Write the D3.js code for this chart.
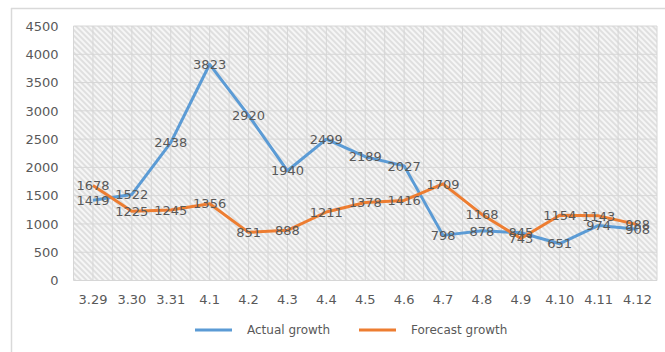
<!DOCTYPE html>
<html>
<head>
<meta charset="utf-8">
<script src="https://cdn.jsdelivr.net/npm/d3@7"></script>
<style>
  html, body { margin: 0; padding: 0; background: #fff; }
  svg { display: block; }
  text { font-family: "DejaVu Sans", sans-serif; fill: #595959; }
</style>
</head>
<body>
<svg id="chart" width="665" height="352"></svg>
<script>
// Daily dates on the x axis
const categories = ["3.29", "3.30", "3.31", "4.1", "4.2", "4.3", "4.4", "4.5", "4.6", "4.7", "4.8", "4.9", "4.10", "4.11", "4.12"];
// Series values
const actualGrowth = [1419, 1522, 2438, 3823, 2920, 1940, 2499, 2189, 2027, 798, 878, 845, 651, 974, 908];
const forecastGrowth = [1678, 1225, 1245, 1356, 851, 888, 1211, 1378, 1416, 1709, 1168, 743, 1154, 1143, 988];
// Value axis ticks
const yTicks = [0, 500, 1000, 1500, 2000, 2500, 3000, 3500, 4000, 4500];

const series = [
  { name: "Actual growth", values: actualGrowth, color: "#5B9BD5" },
  { name: "Forecast growth", values: forecastGrowth, color: "#ED7D31" }
];

const svg = d3.select("#chart");
const plot = { left: 73.5, right: 657, top: 26, bottom: 280.5 };

const x = d3.scaleBand().domain(categories).range([plot.left, plot.right]);
const y = d3.scaleLinear().domain([0, 4500]).range([plot.bottom, plot.top]);

// Chart frame
svg.append("line").attr("x1", 11).attr("x2", 665).attr("y1", 8.5).attr("y2", 8.5)
  .attr("stroke", "#d9d9d9").attr("stroke-width", 1.5);
svg.append("line").attr("x1", 11.5).attr("x2", 11.5).attr("y1", 8).attr("y2", 352)
  .attr("stroke", "#d9d9d9").attr("stroke-width", 1.5);

// Hatched plot-area fill (downward diagonal stripes)
const defs = svg.append("defs");
const pat = defs.append("pattern").attr("id", "hatch")
  .attr("patternUnits", "userSpaceOnUse").attr("width", 4).attr("height", 4)
  .attr("patternTransform", "rotate(45)");
pat.append("rect").attr("width", 4).attr("height", 4).attr("fill", "#f6f6f6");
pat.append("line").attr("x1", 0).attr("x2", 4).attr("y1", 1).attr("y2", 1)
  .attr("stroke", "#d8d8d8").attr("stroke-width", 1.5);

svg.append("rect")
  .attr("x", plot.left).attr("y", plot.top)
  .attr("width", plot.right - plot.left).attr("height", plot.bottom - plot.top)
  .attr("fill", "url(#hatch)");

// Grid lines: one per value tick, and two per category (centre and edge)
const grid = svg.append("g").attr("stroke", "#d6d6d6").attr("stroke-width", 1);
grid.selectAll(".hg").data(yTicks).join("line")
  .attr("x1", plot.left).attr("x2", plot.right)
  .attr("y1", d => y(d)).attr("y2", d => y(d));
const vPos = [];
categories.forEach(c => { vPos.push(x(c)); vPos.push(x(c) + x.bandwidth() / 2); });
vPos.push(plot.right);
grid.selectAll(".vg").data(vPos).join("line")
  .attr("x1", d => d).attr("x2", d => d)
  .attr("y1", plot.top).attr("y2", plot.bottom);

// Value axis
const yAxis = svg.append("g").attr("transform", `translate(${plot.left},0)`)
  .call(d3.axisLeft(y).tickValues(yTicks).tickFormat(d3.format("d")).tickSize(0).tickPadding(15));
yAxis.select(".domain").remove();
yAxis.selectAll("text").style("font-size", "13px").attr("fill", "#595959")
  .style("font-family", "'DejaVu Sans', sans-serif");

// Category axis
const xAxis = svg.append("g").attr("transform", `translate(0,${plot.bottom})`)
  .call(d3.axisBottom(x).tickSize(0).tickPadding(14));
xAxis.select(".domain").remove();
xAxis.selectAll("text").style("font-size", "13px").attr("fill", "#595959")
  .style("font-family", "'DejaVu Sans', sans-serif");

// Lines
const cx = c => x(c) + x.bandwidth() / 2;
const line = d3.line().x((d, i) => cx(categories[i])).y(d => y(d));
series.forEach(s => {
  svg.append("path").datum(s.values)
    .attr("d", line).attr("fill", "none")
    .attr("stroke", s.color).attr("stroke-width", 3)
    .attr("stroke-linejoin", "round");
});

// Value labels centred on each point
series.forEach(s => {
  svg.append("g").selectAll("text").data(s.values).join("text")
    .attr("x", (d, i) => cx(categories[i]))
    .attr("y", d => y(d))
    .attr("dy", "0.36em")
    .attr("text-anchor", "middle")
    .style("font-size", "13px")
    .text(d => d);
});

// Legend
const legend = svg.append("g");
const legendItems = [
  { s: series[0], x: 195 },
  { s: series[1], x: 359 }
];
legendItems.forEach(it => {
  legend.append("line").attr("x1", it.x).attr("x2", it.x + 37)
    .attr("y1", 330).attr("y2", 330)
    .attr("stroke", it.s.color).attr("stroke-width", 3);
  legend.append("text").attr("x", it.x + 52).attr("y", 330).attr("dy", "0.36em")
    .style("font-size", "12px").text(it.s.name);
});
</script>
</body>
</html>
